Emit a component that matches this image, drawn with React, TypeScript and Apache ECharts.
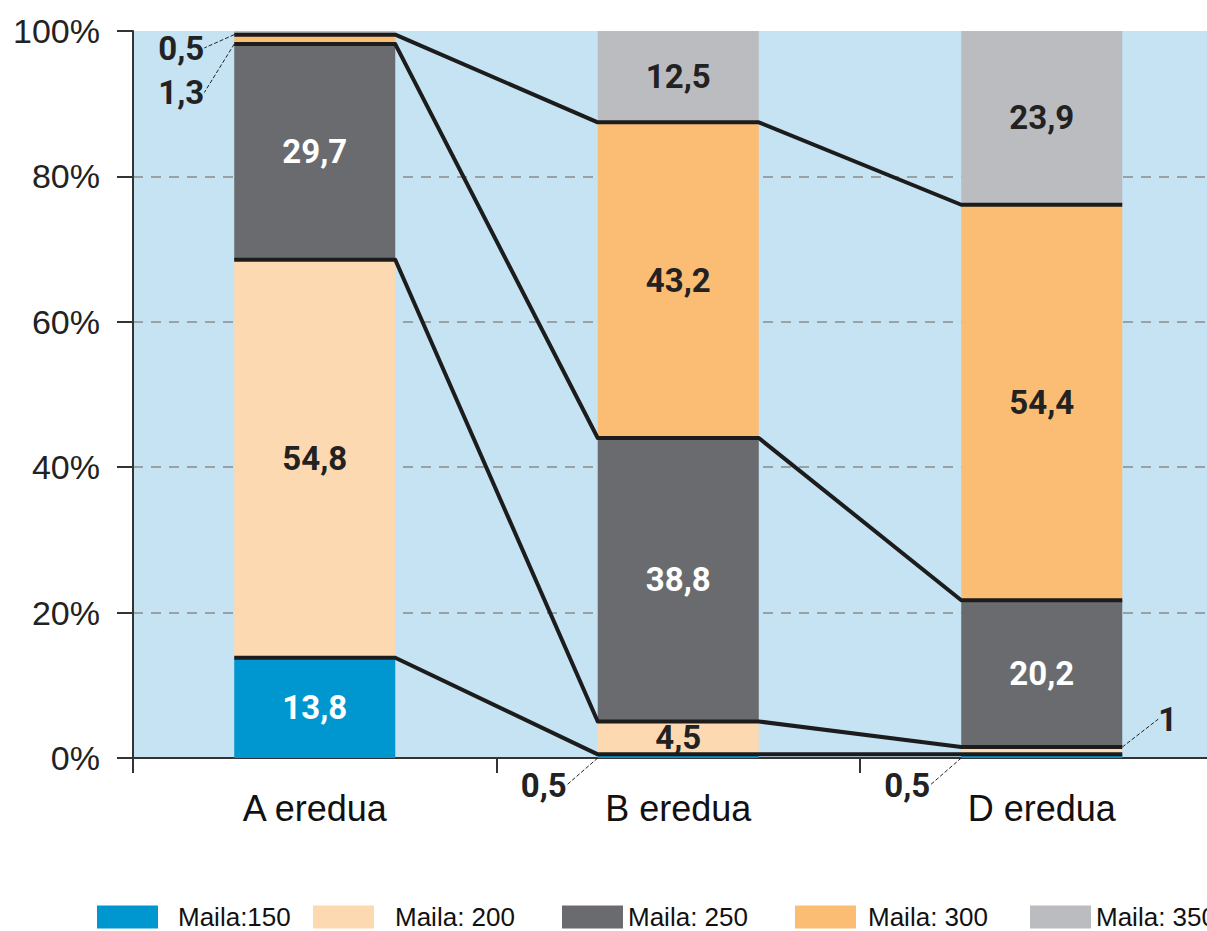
import { useEffect, useRef } from 'react';
import * as echarts from 'echarts';

const categories = ['A eredua', 'B eredua', 'D eredua'];
const seriesNames = ['Maila:150', 'Maila: 200', 'Maila: 250', 'Maila: 300', 'Maila: 350'];
const maila150 = [13.8, 0.5, 0.5];
const maila200 = [54.8, 4.5, 1];
const maila250 = [29.7, 38.8, 20.2];
const maila300 = [1.3, 43.2, 54.4];
const maila350 = [0.5, 12.5, 23.9];
const yTicks = [0, 20, 40, 60, 80, 100];

const colors = ['#0096d0', '#fdd9b1', '#6a6b6f', '#fbbd74', '#bbbcc0'];
const labelColors = ['#ffffff', '#222222', '#ffffff', '#222222', '#222222'];
const legendLeft = [97, 313, 562, 795, 1030];
const legendTextGap = [15, 16, 0, 7, 0];
const BAR_RATIO = 0.443;

export default function App() {
  const ref = useRef<HTMLDivElement>(null);
  useEffect(() => {
    if (!ref.current) return;
    const chart = echarts.init(ref.current, undefined, { renderer: 'svg' });
    const raw = [maila150, maila200, maila250, maila300, maila350];
    const totals = categories.map((_, i) => raw.reduce((s, arr) => s + arr[i], 0));
    const pct = raw.map((arr) => arr.map((v, i) => (v / totals[i]) * 100));
    const cumulative = [0, 1, 2, 3].map((k) =>
      categories.map((_, i) => {
        let s = 0;
        for (let j = 0; j <= k; j++) s += pct[j][i];
        return s;
      })
    );
    const fmt = (v: number) => String(v).replace('.', ',');
    const smallLabels: Record<string, boolean> = { '4-0': true, '3-0': true, '0-1': true, '0-2': true, '1-2': true };
    const labelFont = "Roboto, 'DejaVu Sans Condensed', sans-serif";

    const barSeries = raw.map((arr, s) => ({
      name: seriesNames[s],
      type: 'bar',
      stack: 'total',
      barWidth: BAR_RATIO * 100 + '%',
      itemStyle: { color: colors[s] },
      data: pct[s].map((v, i) => {
        const small = smallLabels[s + '-' + i];
        return {
          value: v,
          label: small
            ? { show: true, color: '#222', position: 'inside' }
            : { show: true, color: labelColors[s], position: 'inside' },
          labelLine: small
            ? { show: true, lineStyle: { color: '#222', width: 1, type: [4, 2] } }
            : { show: false },
        };
      }),
      label: {
        show: true,
        fontFamily: labelFont,
        fontWeight: 'bold',
        fontSize: 33,
        formatter: (p: any) => fmt(raw[p.seriesIndex][p.dataIndex]),
      },
      labelLine: { show: false },
      labelLayout: (p: any) => {
        const key = p.seriesIndex + '-' + p.dataIndex;
        const r = p.rect;
        if (key === '4-0') return { x: r.x - 30, y: r.y + 17, align: 'right', verticalAlign: 'middle' };
        if (key === '3-0') return { x: r.x - 30, y: r.y + 58, align: 'right', verticalAlign: 'middle' };
        if (key === '0-1' || key === '0-2')
          return { x: r.x - 31, y: r.y + r.height + 27, align: 'right', verticalAlign: 'middle' };
        if (key === '1-2') return { x: r.x + r.width + 36, y: r.y - 28, align: 'left', verticalAlign: 'middle' };
        return {};
      },
      z: 2,
    }));

    const lineSeries = {
      type: 'custom',
      silent: true,
      z: 5,
      data: cumulative.map((_, k) => [k, 0]),
      renderItem: (params: any, api: any) => {
        const vals = cumulative[params.dataIndex];
        const half = (api.size([1, 0])[0] * BAR_RATIO) / 2;
        const pts: number[][] = [];
        vals.forEach((v, i) => {
          const c = api.coord([i, v]);
          pts.push([c[0] - half, c[1]], [c[0] + half, c[1]]);
        });
        return {
          type: 'polyline',
          shape: { points: pts },
          style: { stroke: '#1c1c1c', lineWidth: 4, fill: null, lineJoin: 'round' },
        };
      },
    };

    const legends = seriesNames.map((n, i) => ({
      data: [n],
      left: legendLeft[i],
      top: 904,
      padding: 0,
      icon: 'rect',
      itemWidth: 61,
      itemHeight: 23,
      textStyle: {
        fontSize: 26,
        color: '#111',
        fontFamily: "'Liberation Sans', Arial, sans-serif",
        padding: [0, 0, 0, legendTextGap[i]],
      },
    }));

    chart.setOption({
      animation: false,
      backgroundColor: '#ffffff',
      grid: {
        left: 133,
        top: 31,
        width: 1090.5,
        height: 727,
        show: true,
        backgroundColor: '#c5e3f3',
        borderWidth: 0,
      },
      legend: legends,
      xAxis: {
        type: 'category',
        data: categories,
        axisLine: { lineStyle: { color: '#333', width: 2 } },
        axisTick: { show: true, length: 15, lineStyle: { color: '#333', width: 2 } },
        axisLabel: {
          fontSize: 36,
          color: '#111',
          margin: 32,
          fontFamily: "'Liberation Sans', Arial, sans-serif",
        },
      },
      yAxis: {
        type: 'value',
        min: yTicks[0],
        max: yTicks[yTicks.length - 1],
        interval: yTicks[1] - yTicks[0],
        axisLine: { show: true, lineStyle: { color: '#333', width: 2 } },
        axisTick: { show: true, length: 16, lineStyle: { color: '#333', width: 2 } },
        axisLabel: {
          formatter: '{value}%',
          fontSize: 34,
          color: '#222',
          margin: 33,
          fontFamily: "'Liberation Sans', Arial, sans-serif",
        },
        splitLine: {
          show: true,
          showMinLine: false,
          showMaxLine: false,
          lineStyle: { color: '#8c8c8c', width: 1.5, type: [10, 8] },
        },
      },
      series: [...barSeries, lineSeries],
    } as any);
    return () => chart.dispose();
  }, []);

  return (
    <div
      style={{
        position: 'fixed',
        left: 0,
        top: 0,
        width: 1207,
        height: 931,
        overflow: 'hidden',
        background: '#fff',
      }}
    >
      <div ref={ref} style={{ width: 1240, height: 931 }} />
    </div>
  );
}
